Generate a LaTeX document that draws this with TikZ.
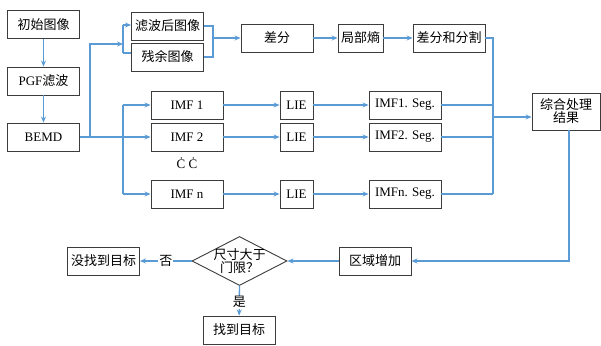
\documentclass[tikz,border=0pt]{standalone}
\usepackage{fontspec}
\setmainfont{Liberation Serif}
\newfontfamily\cjk{Noto Sans CJK SC}
\usetikzlibrary{arrows.meta,shapes.geometric}
\definecolor{lblue}{RGB}{91,155,213}
\definecolor{bordc}{RGB}{60,60,60}
\tikzset{
  box/.style={draw=bordc, line width=0.9pt, inner sep=0pt, minimum width=#1, minimum height=28pt, align=center, font=\fontsize{13}{15}\selectfont},
  box/.default=72pt,
  ln/.style={draw=lblue, line width=1.4pt},
  arr/.style={ln, -{Stealth[length=6pt,width=5pt]}},
  lab/.style={inner sep=1pt, font=\fontsize{13}{15}\selectfont},
}
\begin{document}
\begin{tikzpicture}[x=1pt,y=-1pt]
\useasboundingbox (0,0) rectangle (601,345);
% left column
\node[box] (init) at (43.5,24.5) {\cjk 初始图像};
\node[box] (pgf) at (43.5,81) {PGF\cjk 滤波};
\node[box] (bemd) at (43.5,137) {BEMD};
% top row
\node[box] (filt) at (167.5,26) {\cjk 滤波后图像};
\node[box] (rem) at (167.5,57) {\cjk 残余图像};
\node[box] (diff) at (277,38) {\cjk 差分};
\node[box=45pt] (ent) at (360.5,38) {\cjk 局部熵};
\node[box] (dseg) at (449,38) {\cjk 差分和分割};
% IMF rows
\node[box] (imf1) at (187,105) {IMF 1};
\node[box] (imf2) at (187,137) {IMF 2};
\node[lab] (dots) at (187,163) {Ċ Ċ};
\node[box] (imfn) at (187,194) {IMF n};
\node[box=33pt] (lie1) at (296.5,105) {LIE};
\node[box=33pt] (lie2) at (296.5,137) {LIE};
\node[box=33pt] (lien) at (296.5,194) {LIE};
\node[box] (seg1) at (405,105) {IMF1. Seg.};
\node[box] (seg2) at (405,137) {IMF2. Seg.};
\node[box] (segn) at (405,194) {IMFn. Seg.};
% result
\node[box=68pt, minimum height=37pt] (res) at (566,111.5) {\cjk 综合处理\\[-2pt]\cjk 结果};
% bottom row
\node[box] (grow) at (375,261) {\cjk 区域增加};
\node[draw=bordc, line width=0.9pt, shape=diamond, inner sep=0pt, minimum width=95pt, minimum height=49pt] (dec) at (239.5,261) {};
\node[lab, align=center] (dectxt) at (239.5,261) {\cjk 尺寸大于\\[-2pt]\cjk 门限？};
\node[box] (nf) at (103.5,261) {\cjk 没找到目标};
\node[box] (found) at (239,330) {\cjk 找到目标};
% junction coordinates
\coordinate (j1) at (90,137);
\coordinate (j2) at (123,44);
\coordinate (bt) at (123,25);
\coordinate (bb) at (123,53);
\coordinate (k) at (213,38);
\coordinate (c1) at (123,105);
\coordinate (cn) at (123,194);
\coordinate (m) at (493,117);
\coordinate (mt) at (493,38);
\coordinate (mb) at (493,194);
% connectors
\draw[arr] (init) -- (pgf);
\draw[arr] (pgf) -- (bemd);
\draw[arr] (bemd) -- (imf2);
\draw[arr] (j1) |- (j2);
\draw[ln] (bt) -- (bb);
\draw[arr] (bt) -- (bt -| filt.west);
\draw[ln] (bb) -- (bb -| rem.west);
\draw[ln] (filt.east) -| (k);
\draw[ln] (rem.east) -| (k);
\draw[arr] (k) -- (diff);
\draw[arr] (diff) -- (ent);
\draw[arr] (ent) -- (dseg);
\draw[ln] (c1) -- (cn);
\draw[arr] (c1) -- (imf1);
\draw[arr] (cn) -- (imfn);
\draw[arr] (imf1) -- (lie1);
\draw[arr] (imf2) -- (lie2);
\draw[arr] (imfn) -- (lien);
\draw[arr] (lie1) -- (seg1);
\draw[arr] (lie2) -- (seg2);
\draw[arr] (lien) -- (segn);
\draw[ln] (dseg.east) -| (mt) -- (mb);
\draw[ln] (seg1.east) -- (seg1.east -| mt);
\draw[ln] (seg2.east) -- (seg2.east -| mt);
\draw[ln] (segn.east) -- (mb);
\draw[arr] (m) -- (m -| res.west);
\draw[arr] (res.south -| 569,0) |- (grow.east);
\draw[arr] (grow) -- (dec.east);
\draw[arr] (dec.west) -- node[lab, fill=white] (no) {\cjk 否} (nf);
\draw[arr] (dec.south) -- node[lab, fill=white, pos=0.55] (yes) {\cjk 是} (found);
\end{tikzpicture}
\end{document}
